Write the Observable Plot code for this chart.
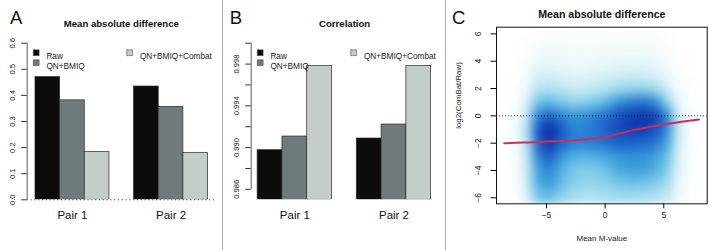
<!DOCTYPE html>
<html><head><meta charset="utf-8">
<script src="https://cdn.jsdelivr.net/npm/d3@7"></script>
<script src="https://cdn.jsdelivr.net/npm/@observablehq/plot@0.6"></script>
<style>
body{margin:0;background:#fff;}
#wrap{position:relative;width:716px;height:250px;overflow:hidden;font-family:"Liberation Sans",Arial,sans-serif;}
.panel{position:absolute;top:0;}
.sep{position:absolute;top:0;width:1px;height:250px;background:#b0b0b0;}
</style></head><body><div id="wrap"></div>
<script>
// ---------- data ----------
const pairs = ["Pair 1", "Pair 2"];
const series = ["Raw", "QN+BMIQ", "QN+BMIQ+Combat"];
const seriesColors = ["#0c0c0c", "#6f7b7b", "#c3cdca"];
const madValues = [[0.470, 0.381, 0.183], [0.434, 0.356, 0.180]];
const corValues = [[0.98975, 0.99106, 0.99783], [0.99087, 0.99221, 0.99783]];
const madTicks = [0.0, 0.1, 0.2, 0.3, 0.4, 0.5, 0.6];
const madTickLabels = ["0.0", "0.1", "0.2", "0.3", "0.4", "0.5", "0.6"];
const corTicks = [0.986, 0.988, 0.990, 0.992, 0.994, 0.996, 0.998, 1.000];
const corTickLabels = ["0.986", "", "0.990", "", "0.994", "", "0.998", ""];
const panelLetters = ["A", "B", "C"];
const panelTitles = ["Mean absolute difference", "Correlation", "Mean absolute difference"];

const mDomain = [-9.26, 8.7];
const ratioDomain = [-6.44, 6.49];
const mTicks = [-5, 0, 5];
const ratioTicks = [-6, -4, -2, 0, 2, 4, 6];
const xLabelC = "Mean M-value";
const yLabelC = "log2(ComBat/Raw)";
const loessX = [-8.6, -7, -5, -3, -1, 0, 1, 2, 3, 4, 5, 6, 7, 8];
const loessY = [-2.0, -1.96, -1.88, -1.8, -1.66, -1.55, -1.35, -1.12, -0.95, -0.78, -0.62, -0.5, -0.38, -0.27];
// smoothed density intensity (0 = none .. 9 = densest), rows top (y≈6) to bottom (y≈-6), columns x≈-8.75 .. 8.25
const densityGrid = [
  [0,0,0,0.1,0.2,0.2,0.2,0.2,0.2,0.2,0.2,0.2,0.2,0.2,0.1,0,0,0],
  [0,0,0.1,0.4,0.5,0.5,0.4,0.4,0.4,0.5,0.5,0.5,0.5,0.4,0.2,0,0,0],
  [0,0,0.3,0.8,0.9,0.8,0.7,0.7,0.8,0.9,1.0,1.0,1.0,0.9,0.5,0.1,0,0],
  [0,0,0.5,1.4,1.5,1.3,1.2,1.2,1.3,1.4,1.6,1.7,1.7,1.5,0.9,0.3,0,0],
  [0,0.1,0.8,2.2,2.4,2.1,1.9,1.9,2.1,2.4,2.8,3.0,3.0,2.7,1.6,0.5,0.1,0],
  [0,0.1,1.2,3.6,4.0,3.4,3.1,3.2,3.6,4.2,5.2,5.8,6.0,5.4,3.2,0.9,0.1,0],
  [0,0.2,1.8,5.6,6.6,5.6,5.0,5.2,5.8,6.4,7.4,8.0,8.4,8.0,5.6,1.6,0.3,0],
  [0,0.2,2.2,7.0,8.8,7.0,5.6,5.6,6.0,6.8,7.6,8.0,8.0,7.4,5.4,1.8,0.3,0],
  [0,0.2,2.0,6.6,8.4,6.6,5.6,5.6,5.8,6.2,6.6,6.6,6.4,6.0,4.6,1.6,0.3,0],
  [0,0.2,1.8,5.4,6.8,5.0,4.3,4.1,4.3,4.6,5.0,5.1,5.1,4.7,3.7,1.4,0.2,0],
  [0,0.1,1.6,4.7,5.4,4.2,3.5,3.3,3.4,3.8,4.5,4.7,4.7,4.3,3.3,1.2,0.2,0],
  [0,0.1,1.5,4.3,4.9,3.9,3.2,3.0,3.0,3.2,3.5,3.6,3.5,3.3,2.7,1.0,0.1,0],
  [0,0.1,1.1,3.3,3.7,3.0,2.5,2.3,2.3,2.5,2.6,2.6,2.5,2.3,1.8,0.7,0.1,0]
];
const densityPalette = ["#ffffff","#e6f6fa","#c3e9f3","#92d5ec","#5cb9e4","#3596d8","#2474d0","#1a57c6","#1140b4","#0a2c9c"];

// ---------- layout ----------
const FONT = "'Liberation Sans', Arial, Helvetica, sans-serif";
const wrap = document.getElementById("wrap");
function place(node, left) {
  const d = document.createElement("div");
  d.className = "panel"; d.style.left = left + "px";
  d.appendChild(node); wrap.appendChild(d);
}
function sep(left) {
  const d = document.createElement("div");
  d.className = "sep"; d.style.left = left + "px"; wrap.appendChild(d);
}

function barPanel(p) {
  const n = series.length;
  const rows = pairs.flatMap((pair, g) => series.map((s, k) => ({
    pair, series: s, value: p.values[g][k],
    x1: 1 + g * (n + 1) + k, x2: 2 + g * (n + 1) + k
  })));
  const centers = pairs.map((_, g) => 1 + g * (n + 1) + n / 2);
  const centerName = new Map(centers.map((c, g) => [c, pairs[g]]));
  const tickName = new Map(p.ticks.map((t, i) => [t, p.tickLabels[i]]));
  const marks = [];
  if (p.zeroLine) marks.push(Plot.ruleY([p.domain[0]], {stroke: "#333", strokeWidth: 0.9, strokeDasharray: "1.2,2.6"}));
  marks.push(
    Plot.rect(rows, {x1: "x1", x2: "x2", y1: p.domain[0], y2: "value", fill: "series", stroke: "#2a2a2a", strokeWidth: 0.7, clip: true}),
    Plot.ruleX([p.xDomain[0]], {y1: p.ticks[0], y2: p.ticks[p.ticks.length - 1], stroke: "#333", strokeWidth: 0.8}),
    Plot.axisY({ticks: p.ticks, tickFormat: d => tickName.get(d), tickRotate: -90, tickSize: 5.5, tickPadding: 6.5, fontSize: 7.6, stroke: "#333", fill: "#111", label: null}),
    Plot.axisX({ticks: centers, tickFormat: d => centerName.get(d), tickSize: 0, tickPadding: 11, fontSize: 11.5, fill: "#111", label: null}),
    Plot.text([p.title], {frameAnchor: "top", lineAnchor: "bottom", dy: -16.2, fontSize: 9.6, fontWeight: "bold", fill: "#111"}),
    Plot.text([p.letter], {frameAnchor: "top-left", textAnchor: "start", lineAnchor: "bottom", dx: p.letterDx, dy: -19.6, fontSize: 18.5, fill: "#111"})
  );
  // legend
  const legendPos = [[9, 9.5], [9, 19.5], [102.5, 9.5]];
  series.forEach((s, i) => {
    const [lx, ly] = legendPos[i];
    marks.push(
      Plot.dot([s], {frameAnchor: "top-left", dx: lx, dy: ly, symbol: "square", r: 3.3, fill: seriesColors[i], stroke: "#333", strokeWidth: 0.5}),
      Plot.text([s], {frameAnchor: "top-left", textAnchor: "start", dx: lx + 10.2, dy: ly + 0.3, fontSize: 8.25, fill: "#222"})
    );
  });
  return Plot.plot({
    width: 222, height: 250,
    marginLeft: p.marginLeft, marginRight: p.marginRight, marginTop: 42.7, marginBottom: 50.7,
    style: {fontFamily: FONT, background: "transparent", overflow: "visible"},
    x: {type: "linear", domain: p.xDomain},
    y: {domain: p.domain},
    color: {domain: series, range: seriesColors},
    marks
  });
}

const panelA = barPanel({
  values: madValues, domain: [0, 0.6], ticks: madTicks, tickLabels: madTickLabels,
  title: panelTitles[0], letter: panelLetters[0], letterDx: -17.2,
  xDomain: [0.664, 8.3], marginLeft: 26.7, marginRight: 7.1, zeroLine: true
});
const panelB = barPanel({
  values: corValues, domain: [0.985, 1.0], ticks: corTicks, tickLabels: corTickLabels,
  title: panelTitles[1], letter: panelLetters[1], letterDx: -21.5,
  xDomain: [0.74, 8.28], marginLeft: 27.7, marginRight: 7.4, zeroLine: false
});

const loess = loessX.map((x, i) => ({x, y: loessY[i]}));
const panelC = Plot.plot({
  width: 270, height: 250,
  marginLeft: 50, marginRight: 9.3, marginTop: 26.7, marginBottom: 46.7,
  style: {fontFamily: FONT, background: "transparent", overflow: "visible"},
  x: {domain: mDomain},
  y: {domain: ratioDomain},
  color: {type: "linear", domain: densityPalette.map((_, i) => i), range: densityPalette, interpolate: "rgb"},
  marks: [
    Plot.raster(densityGrid.flat(), {
      width: densityGrid[0].length, height: densityGrid.length,
      x1: mDomain[0], x2: mDomain[1], y1: ratioDomain[1], y2: ratioDomain[0],
      fill: d => d, clip: true
    }),
    Plot.ruleY([0], {stroke: "#222", strokeWidth: 0.9, strokeDasharray: "1,2"}),
    Plot.line(loess, {x: "x", y: "y", stroke: "#d12a5c", strokeWidth: 2, curve: "monotone-x"}),
    Plot.frame({stroke: "#111", strokeWidth: 1}),
    Plot.axisX({ticks: mTicks, tickSize: 5, tickPadding: 3, fontSize: 8.5, fill: "#222", label: null}),
    Plot.axisY({ticks: ratioTicks, tickRotate: -90, tickSize: 5.5, tickPadding: 10, fontSize: 8.5, fill: "#222", label: null}),
    Plot.text([xLabelC], {frameAnchor: "bottom", lineAnchor: "bottom", dy: 37, fontSize: 8, fill: "#222"}),
    Plot.text([yLabelC], {frameAnchor: "left", textAnchor: "middle", rotate: -90, dx: -38, dy: -20, fontSize: 7.9, fill: "#222"}),
    Plot.text([panelTitles[2]], {frameAnchor: "top", lineAnchor: "bottom", dy: -9.7, fontSize: 10.6, fontWeight: "bold", fill: "#111"}),
    Plot.text([panelLetters[2]], {frameAnchor: "top-left", textAnchor: "start", lineAnchor: "bottom", dx: -44.4, dy: -3.7, fontSize: 18.5, fill: "#111"})
  ]
});
const img = panelC.querySelector("image");
if (img) img.style.filter = "blur(3.5px)";

place(panelA, 0);
place(panelB, 223);
place(panelC, 446);
sep(222);
sep(445);
</script></body></html>
